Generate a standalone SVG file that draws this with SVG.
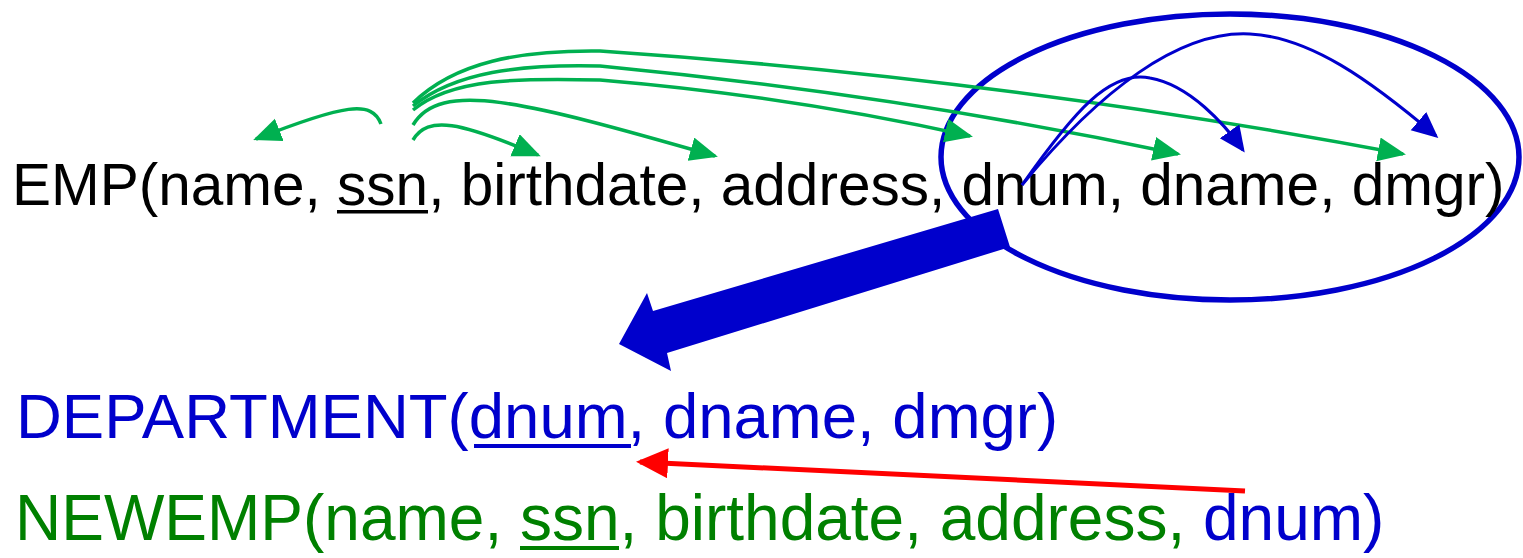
<svg xmlns="http://www.w3.org/2000/svg" width="1523" height="558" viewBox="0 0 1523 558">
  <style>
    .rel { font-family: "Liberation Sans", Arial, sans-serif; }
    .black { fill: #000000; }
    .blue { fill: #0000CC; }
    .green { fill: #008000; }
    .fd { fill: none; stroke: #00B050; stroke-width: 3.5; }
    .fd-blue { fill: none; stroke: #0000CC; stroke-width: 3; }
  </style>
  <defs>
    <marker id="ah-green" markerUnits="userSpaceOnUse" markerWidth="30" markerHeight="26" refX="25" refY="12" orient="auto">
      <path d="M0,0 L28,12 L0,24 z" fill="#00B050"/>
    </marker>
    <marker id="ah-blue" markerUnits="userSpaceOnUse" markerWidth="30" markerHeight="26" refX="23" refY="12" orient="auto">
      <path d="M0,0 L26,12 L0,24 z" fill="#0000CC"/>
    </marker>
    <marker id="ah-red" markerUnits="userSpaceOnUse" markerWidth="34" markerHeight="32" refX="28" refY="15" orient="auto">
      <path d="M0,0 L32,15 L0,30 z" fill="#FF0000"/>
    </marker>
  </defs>

  <rect width="1523" height="558" fill="#FFFFFF"/>

  <!-- highlight round the transitively dependent attributes -->
  <g id="dept-attrs-highlight">
    <ellipse cx="1230" cy="157" rx="289" ry="143" fill="none" stroke="#0000CC" stroke-width="5.5"/>
  </g>

  <!-- EMP relation -->
  <g id="emp">
    <text class="rel black" x="12" y="205" font-size="58.5">EMP(name, ssn, birthdate, address, dnum, dname, dmgr)</text>
    <rect x="337" y="210" width="91" height="3.5" fill="#000000"/>
  </g>

  <!-- DEPARTMENT relation -->
  <g id="department">
    <text class="rel blue" x="16" y="438" font-size="63.5">DEPARTMENT(dnum, dname, dmgr)</text>
    <rect x="474" y="444" width="157" height="4" fill="#0000CC"/>
  </g>

  <!-- NEWEMP relation -->
  <g id="newemp">
    <text class="rel green" x="15" y="540" font-size="64">NEWEMP(name, ssn, birthdate, address, <tspan class="blue">dnum)</tspan></text>
    <rect x="520" y="546" width="99" height="4" fill="#008000"/>
  </g>

  <g id="connectors">
    <!-- functional dependencies from ssn -->
    <path class="fd" d="M381,124 C372,100 345,104 256,139" marker-end="url(#ah-green)"/>
    <path class="fd" d="M413,140 C428,115 460,122 538,155" marker-end="url(#ah-green)"/>
    <path class="fd" d="M413,125 C440,80 520,100 715,156" marker-end="url(#ah-green)"/>
    <path class="fd" d="M413,110 C452,78 520,78 600,80 Q790,96 970,136" marker-end="url(#ah-green)"/>
    <path class="fd" d="M413,106 C455,72 520,64 600,66 Q900,95 1178,154" marker-end="url(#ah-green)"/>
    <path class="fd" d="M413,103 C455,62 520,50 600,51 Q1000,78 1403,154" marker-end="url(#ah-green)"/>

    <!-- dependencies from dnum -->
    <path class="fd-blue" d="M1022,185 C1075,110 1110,70 1150,78 C1190,85 1225,125 1243,150" marker-end="url(#ah-blue)"/>
    <path class="fd-blue" d="M1022,185 C1100,90 1180,30 1250,34 C1310,37 1370,80 1436,136" marker-end="url(#ah-blue)"/>

    <!-- decomposition arrow -->
    <polygon points="998,209 1010,247 667,353 671,371 619,344 647,293 653,311" fill="#0000CC"/>

    <!-- foreign key reference -->
    <path d="M1245,491 L640,462" fill="none" stroke="#FF0000" stroke-width="5" marker-end="url(#ah-red)"/>
  </g>
</svg>
